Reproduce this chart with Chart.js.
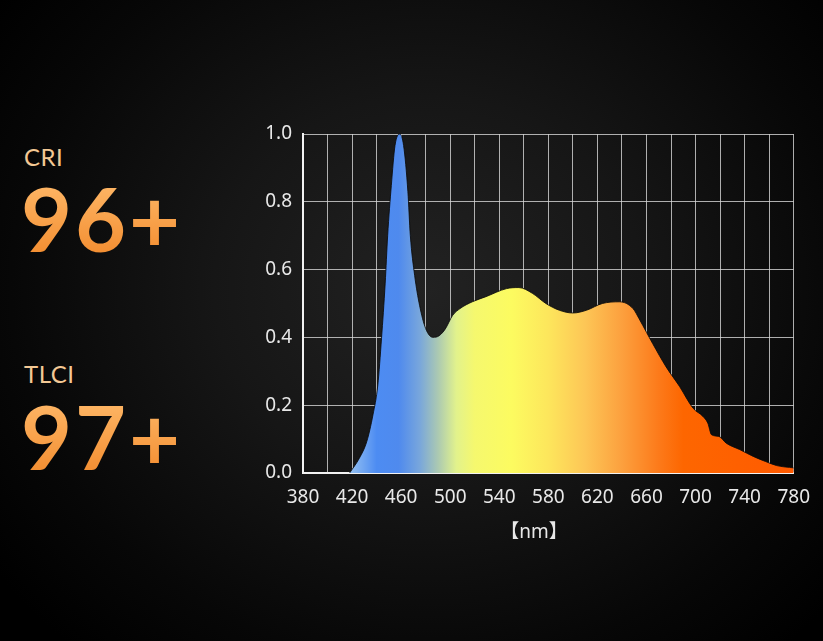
<!DOCTYPE html>
<html>
<head>
<meta charset="utf-8">
<script src="https://cdn.jsdelivr.net/npm/chart.js@4"></script>
<style>
  html, body { margin: 0; padding: 0; }
  body {
    width: 823px; height: 641px; overflow: hidden; position: relative;
    background: radial-gradient(ellipse 65% 75% at 52% 45%, #222 0%, #161616 40%, #070707 78%, #000 100%);
    font-family: "Lato", sans-serif;
  }
  .label { position: absolute; left: 24px; color: #f3c894; font-size: 24px; font-weight: 400; letter-spacing: 0.5px; }
  .big {
    position: absolute; left: 21px; font-size: 88px; font-weight: 700; line-height: 1; letter-spacing: 3px;
    background: linear-gradient(#ffbb6c, #f28a2c);
    -webkit-background-clip: text; background-clip: text; color: transparent;
  }
  #wrap { position: absolute; left: 0; top: 0; width: 823px; height: 641px; }
</style>
</head>
<body>
<div class="label" style="top:142px">CRI</div>
<div class="big" style="top:174px">96+</div>
<div class="label" style="top:359px">TLCI</div>
<div class="big" style="top:392px">97+</div>
<div id="wrap"><canvas id="spd"></canvas></div>
<script>
// relative spectral power distribution
const wavelengths = [418, 426, 432, 437, 441, 444, 447, 449, 452, 455, 459, 462, 465.5, 467.5, 471, 475, 480, 486, 491, 496, 502, 508, 518, 529, 546, 556, 567, 578, 589, 600, 611, 624, 638, 649, 654, 660, 665, 676, 687, 698, 706, 710, 713, 719, 725, 736, 747, 757, 766, 780];
const intensity   = [0, 0.044, 0.093, 0.171, 0.26, 0.397, 0.56, 0.70, 0.848, 0.966, 1.0, 0.966, 0.83, 0.70, 0.583, 0.495, 0.426, 0.40, 0.405, 0.425, 0.465, 0.485, 0.505, 0.52, 0.544, 0.547, 0.53, 0.50, 0.48, 0.472, 0.48, 0.50, 0.505, 0.485, 0.455, 0.415, 0.382, 0.313, 0.255, 0.191, 0.167, 0.147, 0.113, 0.108, 0.088, 0.069, 0.049, 0.034, 0.022, 0.015];
const xMin = 380, xMax = 780, xStep = 20, xLabelStep = 40;
const yMin = 0, yMax = 1, yStep = 0.2;
const axisTitle = '【nm】';

// colour of the fill at each wavelength
const colorStops = [
  [420, '#8fbdf2'], [440, '#4d8cf2'], [458, '#4f8aee'], [475, '#78a6dc'],
  [490, '#abc9b2'], [505, '#e2f28c'], [520, '#f5f86e'], [550, '#fcfb60'],
  [580, '#fde65c'], [610, '#fdc656'], [640, '#fca03e'], [670, '#fc7a1a'],
  [690, '#fd6600'], [780, '#ff5a00']
];

function fillGradient(ctx) {
  const chart = ctx.chart;
  const area = chart.chartArea;
  if (!area) return '#fcfb60';
  const xs = chart.scales.x;
  const g = chart.ctx.createLinearGradient(area.left, 0, area.right, 0);
  const w = area.right - area.left;
  colorStops.forEach(([nm, c]) => {
    const t = (xs.getPixelForValue(nm) - area.left) / w;
    g.addColorStop(Math.min(1, Math.max(0, t)), c);
  });
  return g;
}

const font = { family: '"Noto Sans", "Noto Sans CJK SC", sans-serif', size: 19 };
const gridColor = 'rgba(215,215,215,0.8)';

new Chart(document.getElementById('spd'), {
  type: 'line',
  data: {
    datasets: [{
      data: wavelengths.map((w, i) => ({ x: w, y: intensity[i] })),
      fill: 'origin',
      backgroundColor: fillGradient,
      borderColor: 'rgba(12,12,12,0.85)',
      borderWidth: 1,
      pointRadius: 0,
      cubicInterpolationMode: 'monotone'
    }]
  },
  options: {
    responsive: true,
    maintainAspectRatio: false,
    animation: false,
    layout: { padding: { left: 253, top: 134, right: 29, bottom: 97 } },
    plugins: { legend: { display: false }, tooltip: { enabled: false } },
    scales: {
      x: {
        type: 'linear', min: xMin, max: xMax,
        afterFit: s => { s.height = 71; },
        ticks: {
          stepSize: xStep, autoSkip: false, maxRotation: 0, padding: 13,
          color: '#e8e8e8', font,
          callback: v => (v - xMin) % xLabelStep === 0 ? String(v) : ''
        },
        grid: { color: gridColor, lineWidth: 1, drawTicks: false },
        border: { color: '#f2f2f2', width: 2 },
        // trailing ideographic spaces pull the centred title left, as in the original
        title: { display: true, text: axisTitle + '\u3000\u3000', color: '#e8e8e8', font, padding: { top: 0, bottom: 0 } }
      },
      y: {
        min: yMin, max: yMax,
        afterFit: s => { s.width = 50; },
        ticks: {
          stepSize: yStep, padding: 11, color: '#e8e8e8', font,
          callback: v => v.toFixed(1)
        },
        grid: { color: gridColor, lineWidth: 1, drawTicks: false },
        border: { color: '#f2f2f2', width: 2 }
      }
    }
  }
});
</script>
</body>
</html>
